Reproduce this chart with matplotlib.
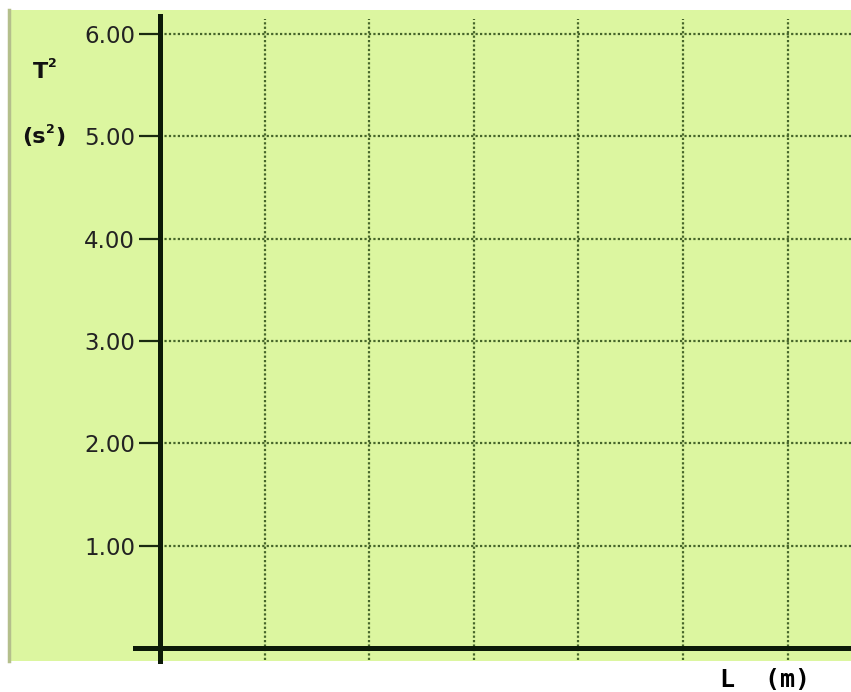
import matplotlib.pyplot as plt

# values of the (empty) T^2 vs L grid
y_ticks = [1, 2, 3, 4, 5, 6]
y_labels = ['1.00', '2.00', '3.00', '4.00', '5.00', '6.00']
x_ticks = [1, 2, 3, 4, 5, 6]

PAPER = '#dcf6a0'
GRID = '#46652a'

fig = plt.figure(figsize=(8.51, 6.92), dpi=100)
fig.patch.set_facecolor('white')
ax = fig.add_axes([9 / 851, 1 - 661 / 692, 842 / 851, 651 / 692])
ax.set_facecolor(PAPER)
ax.set_xlim(-1.444, 6.606)
ax.set_ylim(-0.127, 6.235)

for s in ['top', 'right']:
    ax.spines[s].set_visible(False)
ax.spines['left'].set_position(('data', 0))
ax.spines['left'].set_bounds(-0.127, 6.18)
ax.spines['bottom'].set_position(('data', 0))
ax.spines['bottom'].set_bounds(-0.24, 6.606)
for s in ['left', 'bottom']:
    ax.spines[s].set_linewidth(3.6)
    ax.spines[s].set_color('#0c1a08')

# dotted grid
ax.hlines(y_ticks, 0, 6.606, colors=GRID, linestyles=(0, (1, 1)), linewidth=1.6)
ax.vlines(x_ticks, -0.12, 6.15, colors=GRID, linestyles=(0, (1, 1)), linewidth=1.6)

ax.set_yticks(y_ticks)
ax.set_yticklabels(y_labels)
ax.set_xticks(x_ticks)
ax.set_xticklabels([])
ax.tick_params(axis='y', direction='out', length=15, width=1.6, color='#1a2a10',
               labelsize=16.5, labelcolor='#222222', pad=3)
ax.tick_params(axis='x', direction='out', length=0)

# axis labels drawn by hand like on the worksheet
ax.text(-1.14, 5.63, 'T', fontsize=16, fontweight='bold',
        ha='center', va='center', color='#111111')
ax.text(-1.03, 5.71, '2', fontsize=9, fontweight='bold',
        ha='center', va='center', color='#111111')
ax.text(-1.32, 4.99, '(s', fontsize=16, fontweight='bold',
        ha='left', va='center', color='#111111')
ax.text(-1.09, 5.07, '2', fontsize=9, fontweight='bold',
        ha='left', va='center', color='#111111')
ax.text(-1.0, 4.99, ')', fontsize=16, fontweight='bold',
        ha='left', va='center', color='#111111')
ax.text(5.78, -0.31, 'L  (m)', fontsize=18, fontweight='bold', family='DejaVu Sans Mono',
        ha='center', va='center', color='#000000', clip_on=False)

# scanned page edge
fig.add_artist(plt.Line2D([9 / 851, 9 / 851], [1 - 661 / 692, 1 - 10 / 692],
                          color='#b4bf8c', linewidth=2.5, transform=fig.transFigure))

fig.savefig('out.png', dpi=100, facecolor='white')
